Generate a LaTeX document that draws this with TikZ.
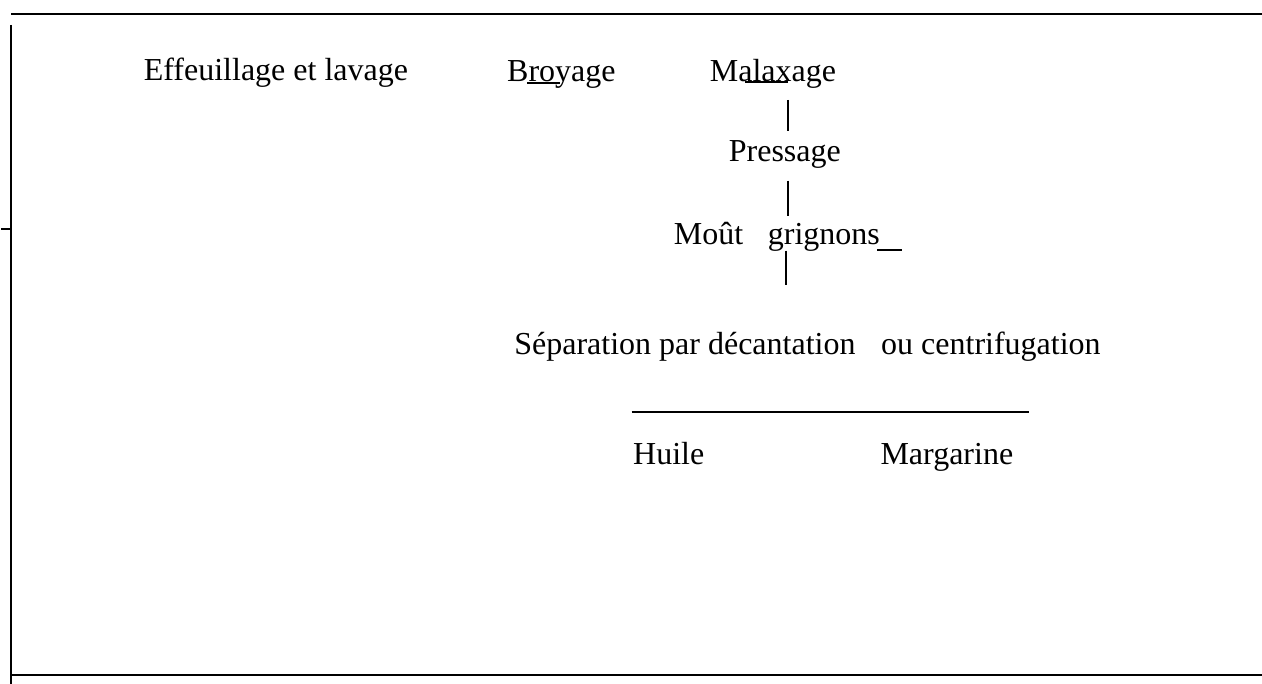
\documentclass[tikz,border=0pt]{standalone}
\usepackage{fontspec}
\setmainfont{Liberation Serif}
\usetikzlibrary{positioning, calc}

\begin{document}
\begin{tikzpicture}[x=0.375pt, y=-0.375pt, font=\fontsize{12}{14}\selectfont]
\tikzset{Stage/.style={anchor=base west, inner sep=0pt, text height=8pt, text depth=2.6pt}}
\tikzset{Link/.style={line width=0.75pt}}
\tikzset{Frame/.style={line width=0.85pt}}

\useasboundingbox (0,0) rectangle (1262,684);

% frame
\draw[Frame] (11,14) -- (1262,14);
\draw[Frame] (11.3,25) -- (11.3,684);
\draw[Frame] (1.3,229) -- (11.3,229);
\draw[Frame] (11.3,675) -- (1262,675);

% nodes
\node[Stage] (effeuil) at (143.3,80.7) {Effeuillage et lavage};
\node[Stage] (broyage) at (506.7,81.7) {Broyage};
\node[Stage] (malaxage) at (709.3,81.7) {Malaxage};
\node[Stage] (pressage) at (728.3,161.7) {Pressage};
\node[Stage] (mout) at (673.3,245) {Moût};
\node[Stage] (grignons) at (767.3,245) {grignons};
\node[Stage] (separation) at (513.8,355) {Séparation par décantation\hspace{6.6pt} ou centrifugation};
\node[Stage] (huile) at (632.7,464) {Huile};
\node[Stage] (margarine) at (880,464) {Margarine};

\coordinate (col) at (788.3,0);
\coordinate (gend) at (785.7,285);
\coordinate (splitL) at (631.7,411.5);
\coordinate (splitR) at (1029,411.5);

% lines
\draw[Link] ([shift={(20.3,1.6)}]broyage.base west) -- ([shift={(53.3,1.6)}]broyage.base west);
\draw[Link] ([shift={(35.7,0.6)}]malaxage.base west) -- ([shift={(78.7,0.6)}]malaxage.base west);
\draw[Link] ([shift={(109.7,5)}]grignons.base west) -- ([shift={(134.7,5)}]grignons.base west);
\draw[Link, shorten <=4pt, shorten >=3.3pt] (malaxage.south -| col) -- (pressage.north -| col);
\draw[Link, shorten <=4.3pt, shorten >=2.6pt] (pressage.south -| col) -- (grignons.north -| col);
\draw[Link, shorten <=-0.7pt] (grignons.south -| gend) -- (gend);
\draw[Link] (splitL) -- (splitR);
\end{tikzpicture}
\end{document}
